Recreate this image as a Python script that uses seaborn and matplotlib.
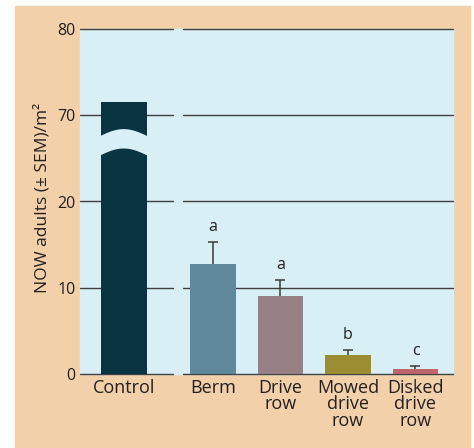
import numpy as np
import pandas as pd
import matplotlib
matplotlib.use("Agg")
import matplotlib.pyplot as plt
import seaborn as sns
from matplotlib.patches import Rectangle

# ---- data ----
treatments = ["Control", "Berm", "Drive\nrow", "Mowed\ndrive\nrow", "Disked\ndrive\nrow"]
means = [71.5, 12.8, 9.1, 2.2, 0.6]
sems = [0.0, 2.55, 1.8, 0.6, 0.3]
letters = ["", "a", "a", "b", "c"]
tick_values = [0, 10, 20, 70, 80]
bar_colors = ["#0B3443", "#5F889A", "#968086", "#9C8D33", "#BD6569"]

BREAK_SHIFT = 40  # values above the axis break are drawn shifted down by this


def to_display(v):
    return v - BREAK_SHIFT if v >= 45 else v


df = pd.DataFrame({
    "treatment": treatments,
    "mean": means,
    "sem": sems,
    "letter": letters,
    "display": [to_display(m) for m in means],
})

# ---- style ----
sns.set_theme(style="white")
plt.rcParams["font.family"] = ["Open Sans", "DejaVu Sans"]
TAN = "#F2D0A9"
BLUE = "#D9EFF6"
GRID = "#3F3F3F"
TXT = "#231F20"
FS_TICK = 11.5
FS_X = 13
FS_Y = 12.5
FS_LET = 11.5

W, H = 474, 448
fig = plt.figure(figsize=(W / 100, H / 100), dpi=100, facecolor="white")
fig.patches.append(Rectangle((15 / W, 0), (470 - 15) / W, (448 - 6) / H,
                             transform=fig.transFigure, color=TAN, zorder=-2))
py0, py1 = 29, 374
bottom = (H - py1) / H
height = (py1 - py0) / H
fig.patches.append(Rectangle((80 / W, bottom), (453 - 80) / W, height,
                             transform=fig.transFigure, color=BLUE, zorder=-1))

ax1 = fig.add_axes([80 / W, bottom, (173 - 80) / W, height])
ax2 = fig.add_axes([183 / W, bottom, (453 - 183) / W, height])
ax1.set_zorder(2)
ax2.set_zorder(2)

pal = dict(zip(treatments, bar_colors))
left = df.iloc[:1]
right = df.iloc[1:].reset_index(drop=True)

w1 = 0.495
sns.barplot(data=left, x="treatment", y="display", hue="treatment", palette=pal,
            order=list(left["treatment"]), saturation=1, width=w1, legend=False,
            ax=ax1, zorder=2, errorbar=None, linewidth=0, edgecolor="none")
w2 = 0.68
sns.barplot(data=right, x="treatment", y="display", hue="treatment", palette=pal,
            order=list(right["treatment"]), saturation=1, width=w2, legend=False,
            ax=ax2, zorder=2, errorbar=None, linewidth=0, edgecolor="none")

for ax in (ax1, ax2):
    ax.set_facecolor("none")
    for s in ax.spines.values():
        s.set_visible(False)
    ax.set_ylim(0, to_display(80))
    for t in tick_values:
        ax.axhline(to_display(t), color=GRID, lw=1.0, zorder=1, clip_on=False)
    ax.set_xlabel("")
    ax.set_ylabel("")
    ax.tick_params(axis="x", length=0, pad=3.5, labelsize=FS_X, labelcolor=TXT)
    for lab in ax.get_xticklabels():
        lab.set_linespacing(0.88)
        lab.set_verticalalignment("top")

ax1.set_xlim(-0.473, 0.527)
ax2.set_xlim(-0.444, 3.556)

ax1.set_yticks([to_display(t) for t in tick_values], labels=[str(t) for t in tick_values])
ax1.tick_params(axis="y", length=0, pad=3, labelsize=FS_TICK, labelcolor=TXT)
ax2.set_yticks([])

# error bars (upper only) and letters
xs = np.arange(len(right))
_, caps, _ = ax2.errorbar(xs, right["display"], yerr=[np.zeros(len(right)), right["sem"]],
                          fmt="none", ecolor="#3A3A3A", elinewidth=1.1, capsize=3.6,
                          capthick=1.1, zorder=3)
caps[0].set_visible(False)  # hide lower caps
for i, row in right.iterrows():
    ax2.annotate(row["letter"], (i, row["display"] + row["sem"]), xytext=(0, 5),
                 textcoords="offset points", ha="center", va="bottom",
                 fontsize=FS_LET, color=TXT)

# wavy break on the control bar
bx = np.linspace(-w1 / 2 - 0.01, w1 / 2 + 0.01, 200)
tt = (bx - bx[0]) / (bx[-1] - bx[0])
wave = 0.9 * np.sin(np.pi * (tt * 0.95 + 0.04))
ax1.fill_between(bx, 25.3 + wave, 27.55 + wave, color=BLUE, zorder=4, lw=0)

fig.text(42 / W, (H - 198) / H, "NOW adults (± SEM)/m²", rotation=90,
         ha="center", va="center", fontsize=FS_Y, color=TXT)

fig.savefig("out.png", dpi=100, facecolor="white")
